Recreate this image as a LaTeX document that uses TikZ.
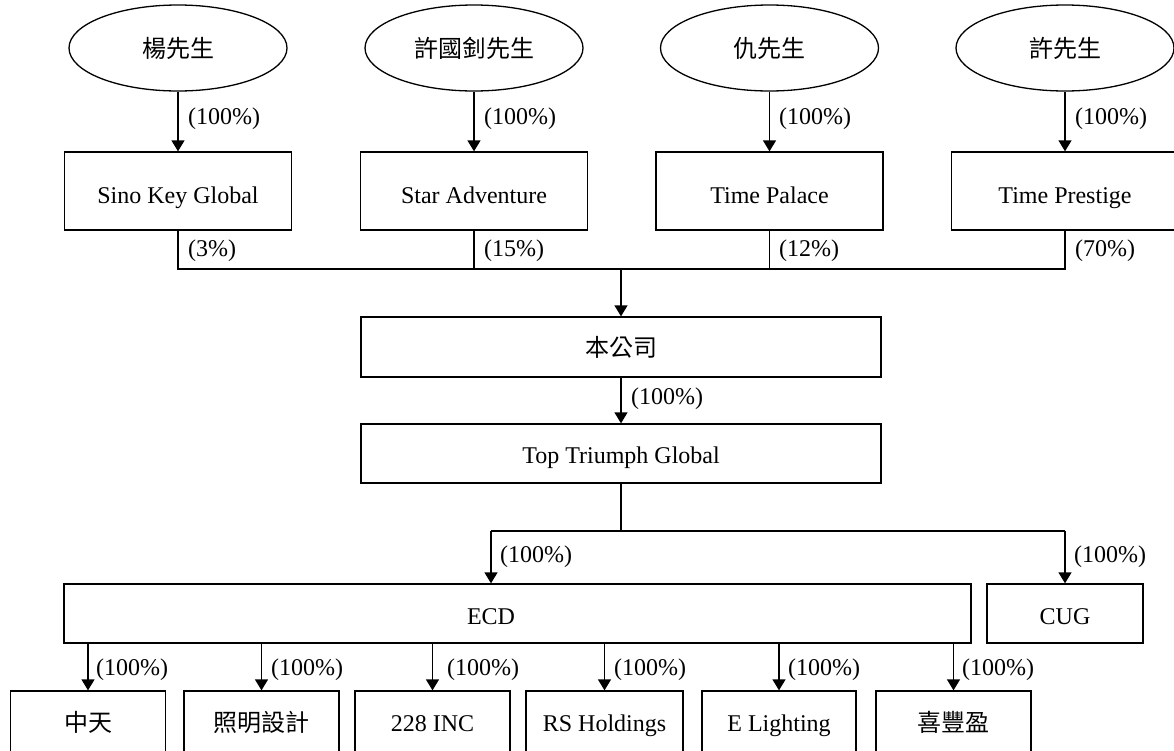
\documentclass[tikz,border=0pt]{standalone}
\usepackage{fontspec}
\setmainfont{Liberation Serif}
\newfontfamily\cjk{Noto Sans CJK TC}
\usetikzlibrary{arrows.meta,shapes.geometric}
\begin{document}
\begin{tikzpicture}[x=1pt,y=-1pt,
  every node/.style={font=\fontsize{24}{28}\selectfont, inner sep=0pt},
  lat/.style={text height=#1, text depth=0pt},
  lat/.default=24pt,
  person/.style={draw, line width=1.3pt, ellipse, minimum width=218pt, minimum height=86pt},
  topbox/.style={draw, line width=1.3pt, rectangle, minimum width=227pt, minimum height=78pt},
  widebox/.style={draw, line width=1.3pt, rectangle, minimum width=520pt, minimum height=60pt},
  subbox/.style={draw, line width=1.3pt, rectangle, minimum width=155pt, minimum height=63pt},
  lab/.style={anchor=west},
  conn/.style={line width=1.3pt},
  arr/.style={line width=1.3pt, -{Triangle[length=11pt,width=13pt]}}]
\useasboundingbox (0,0) rectangle (1174,750);

% persons
\node[person] (p1) at (178,48) {\cjk 楊先生};
\node[person] (p2) at (474,48) {\cjk 許國釗先生};
\node[person] (p3) at (769.5,48) {\cjk 仇先生};
\node[person] (p4) at (1065,48) {\cjk 許先生};

% holding companies
\node[topbox, lat] (sino) at (178,191) {Sino Key Global};
\node[topbox, lat] (star) at (474,191) {Star Adventure};
\node[topbox, lat] (palace) at (769.5,191) {Time Palace};
\node[topbox, lat] (prestige) at (1065,191) {Time Prestige};

\draw[arr] (p1) -- (sino);
\draw[arr] (p2) -- (star);
\draw[arr] (p3) -- (palace);
\draw[arr] (p4) -- (prestige);

\node[lab] (l1) at (188,119) {(100\%)};
\node[lab] (l2) at (484,119) {(100\%)};
\node[lab] (l3) at (779,119) {(100\%)};
\node[lab] (l4) at (1075,119) {(100\%)};

\node[lab] (s1) at (188,251) {(3\%)};
\node[lab] (s2) at (484,251) {(15\%)};
\node[lab] (s3) at (779,251) {(12\%)};
\node[lab] (s4) at (1075,251) {(70\%)};

% bus
\coordinate (busA) at (621,269);
\draw[conn] (sino.south) -- (sino.south |- busA) -- (prestige.south |- busA) -- (prestige.south);
\draw[conn] (star.south) -- (star.south |- busA);
\draw[conn] (palace.south) -- (palace.south |- busA);

% company
\node[widebox] (company) at (621,347) {\cjk 本公司};
\draw[arr] (busA) -- (company.north);

\node[widebox, lat=19pt, minimum height=59pt] (ttg) at (621,453.5) {Top Triumph Global};
\draw[arr] (company) -- (ttg);
\node[lab] (l5) at (631,399) {(100\%)};

% second bus
\coordinate (busB) at (621,531);
\coordinate (bl) at (491,531);
\coordinate (br) at (1065,531);
\draw[conn] (ttg.south) -- (busB);
\draw[conn] (bl) -- (br);

\node[draw, line width=1.3pt, rectangle, minimum width=907pt, minimum height=59pt] (ecd) at (517.5,613.5) {};
\node[lat=21pt] (ecdtext) at (491,613.5) {ECD};
\node[draw, lat=21pt, line width=1.3pt, rectangle, minimum width=156pt, minimum height=59pt] (cug) at (1065,613.5) {CUG};

\draw[arr] (bl) -- (bl |- ecd.north);
\draw[arr] (br) -- (cug.north);
\node[lab] (l6) at (500,557) {(100\%)};
\node[lab] (l7) at (1074,557) {(100\%)};

% subsidiaries
\node[subbox] (b1) at (88,722.5) {\cjk 中天};
\node[subbox] (b2) at (261.5,722.5) {\cjk 照明設計};
\node[subbox, lat=17pt] (b3) at (432.5,722.5) {228 INC};
\node[subbox, lat=17pt, minimum width=157pt] (b4) at (604.5,722.5) {RS Holdings};
\node[subbox, lat=17pt, minimum width=154pt] (b5) at (779,722.5) {E Lighting};
\node[subbox] (b6) at (953.5,722.5) {\cjk 喜豐盈};

\foreach \b in {b1,b2,b3,b4,b5,b6}{
  \draw[arr] (\b.north |- ecd.south) -- (\b.north);
}
\node[lab] (m1) at (96,670) {(100\%)};
\node[lab] (m2) at (271,670) {(100\%)};
\node[lab] (m3) at (447,670) {(100\%)};
\node[lab] (m4) at (614,670) {(100\%)};
\node[lab] (m5) at (788,670) {(100\%)};
\node[lab] (m6) at (962,670) {(100\%)};
\end{tikzpicture}
\end{document}
